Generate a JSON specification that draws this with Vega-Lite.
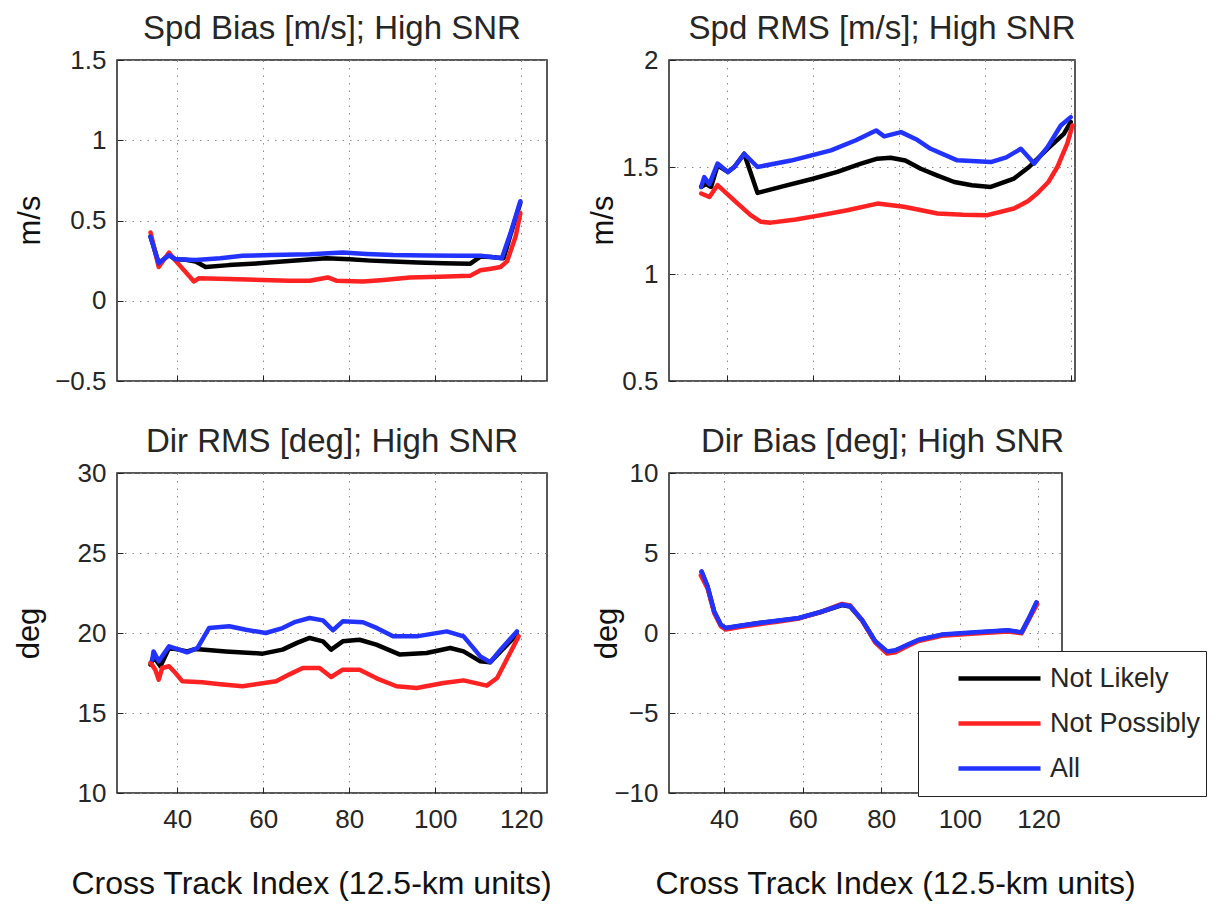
{
"$schema": "https://vega.github.io/schema/vega-lite/v6.json",
"padding": {"left": 12, "top": 12, "right": 5, "bottom": 5},
"background": "white",
"bounds": "flush",
"columns": 2,
"spacing": {"row": 92, "column": 122},
"resolve": {"scale": {"color": "independent"}, "legend": {"color": "independent"}},
"data": {"values": [
{"p":"sb","s":"Not Likely","x":33.8,"y":0.40},{"p":"sb","s":"Not Likely","x":35.7,"y":0.233},{"p":"sb","s":"Not Likely","x":38.1,"y":0.285},{"p":"sb","s":"Not Likely","x":39.6,"y":0.258},{"p":"sb","s":"Not Likely","x":42,"y":0.255},{"p":"sb","s":"Not Likely","x":44.3,"y":0.244},{"p":"sb","s":"Not Likely","x":46.6,"y":0.21},{"p":"sb","s":"Not Likely","x":52,"y":0.222},{"p":"sb","s":"Not Likely","x":59,"y":0.233},{"p":"sb","s":"Not Likely","x":66,"y":0.248},{"p":"sb","s":"Not Likely","x":74.7,"y":0.265},{"p":"sb","s":"Not Likely","x":80.1,"y":0.258},{"p":"sb","s":"Not Likely","x":85,"y":0.25},{"p":"sb","s":"Not Likely","x":90.2,"y":0.244},{"p":"sb","s":"Not Likely","x":96,"y":0.238},{"p":"sb","s":"Not Likely","x":101.9,"y":0.233},{"p":"sb","s":"Not Likely","x":108.1,"y":0.23},{"p":"sb","s":"Not Likely","x":110.5,"y":0.275},{"p":"sb","s":"Not Likely","x":113,"y":0.272},{"p":"sb","s":"Not Likely","x":115.9,"y":0.265},{"p":"sb","s":"Not Likely","x":117.5,"y":0.41},{"p":"sb","s":"Not Likely","x":119.8,"y":0.61},
{"p":"sb","s":"Not Possibly","x":33.8,"y":0.425},{"p":"sb","s":"Not Possibly","x":35.7,"y":0.21},{"p":"sb","s":"Not Possibly","x":38.1,"y":0.30},{"p":"sb","s":"Not Possibly","x":39.6,"y":0.25},{"p":"sb","s":"Not Possibly","x":43.9,"y":0.12},{"p":"sb","s":"Not Possibly","x":45,"y":0.14},{"p":"sb","s":"Not Possibly","x":52,"y":0.135},{"p":"sb","s":"Not Possibly","x":59.9,"y":0.13},{"p":"sb","s":"Not Possibly","x":66,"y":0.125},{"p":"sb","s":"Not Possibly","x":70.8,"y":0.125},{"p":"sb","s":"Not Possibly","x":75,"y":0.145},{"p":"sb","s":"Not Possibly","x":77,"y":0.125},{"p":"sb","s":"Not Possibly","x":83.2,"y":0.12},{"p":"sb","s":"Not Possibly","x":88,"y":0.13},{"p":"sb","s":"Not Possibly","x":94.1,"y":0.145},{"p":"sb","s":"Not Possibly","x":101,"y":0.15},{"p":"sb","s":"Not Possibly","x":108.1,"y":0.155},{"p":"sb","s":"Not Possibly","x":110.5,"y":0.19},{"p":"sb","s":"Not Possibly","x":113,"y":0.2},{"p":"sb","s":"Not Possibly","x":115.2,"y":0.21},{"p":"sb","s":"Not Possibly","x":116.7,"y":0.245},{"p":"sb","s":"Not Possibly","x":118.7,"y":0.40},{"p":"sb","s":"Not Possibly","x":119.8,"y":0.545},
{"p":"sb","s":"All","x":33.8,"y":0.40},{"p":"sb","s":"All","x":35.7,"y":0.233},{"p":"sb","s":"All","x":38.1,"y":0.285},{"p":"sb","s":"All","x":39.6,"y":0.258},{"p":"sb","s":"All","x":44.3,"y":0.254},{"p":"sb","s":"All","x":50,"y":0.265},{"p":"sb","s":"All","x":55.2,"y":0.28},{"p":"sb","s":"All","x":62,"y":0.285},{"p":"sb","s":"All","x":70.8,"y":0.29},{"p":"sb","s":"All","x":78.5,"y":0.30},{"p":"sb","s":"All","x":84,"y":0.292},{"p":"sb","s":"All","x":90.2,"y":0.285},{"p":"sb","s":"All","x":98,"y":0.282},{"p":"sb","s":"All","x":105.8,"y":0.28},{"p":"sb","s":"All","x":110.5,"y":0.28},{"p":"sb","s":"All","x":113,"y":0.272},{"p":"sb","s":"All","x":115.5,"y":0.265},{"p":"sb","s":"All","x":117.5,"y":0.42},{"p":"sb","s":"All","x":119.8,"y":0.62},

{"p":"sr","s":"Not Likely","x":34,"y":1.407},{"p":"sr","s":"Not Likely","x":35.1,"y":1.42},{"p":"sr","s":"Not Likely","x":36.3,"y":1.407},{"p":"sr","s":"Not Likely","x":37.8,"y":1.508},{"p":"sr","s":"Not Likely","x":40.2,"y":1.477},{"p":"sr","s":"Not Likely","x":41.7,"y":1.50},{"p":"sr","s":"Not Likely","x":44,"y":1.562},{"p":"sr","s":"Not Likely","x":47.1,"y":1.379},{"p":"sr","s":"Not Likely","x":54.1,"y":1.415},{"p":"sr","s":"Not Likely","x":60,"y":1.445},{"p":"sr","s":"Not Likely","x":65.7,"y":1.477},{"p":"sr","s":"Not Likely","x":71,"y":1.515},{"p":"sr","s":"Not Likely","x":75,"y":1.539},{"p":"sr","s":"Not Likely","x":78.1,"y":1.543},{"p":"sr","s":"Not Likely","x":81.5,"y":1.53},{"p":"sr","s":"Not Likely","x":85.1,"y":1.492},{"p":"sr","s":"Not Likely","x":89,"y":1.46},{"p":"sr","s":"Not Likely","x":92.9,"y":1.43},{"p":"sr","s":"Not Likely","x":97,"y":1.415},{"p":"sr","s":"Not Likely","x":101.4,"y":1.407},{"p":"sr","s":"Not Likely","x":106.8,"y":1.446},{"p":"sr","s":"Not Likely","x":110.3,"y":1.50},{"p":"sr","s":"Not Likely","x":114.6,"y":1.585},{"p":"sr","s":"Not Likely","x":118.4,"y":1.655},{"p":"sr","s":"Not Likely","x":120,"y":1.71},
{"p":"sr","s":"Not Possibly","x":34,"y":1.376},{"p":"sr","s":"Not Possibly","x":35.9,"y":1.36},{"p":"sr","s":"Not Possibly","x":37.8,"y":1.415},{"p":"sr","s":"Not Possibly","x":42.5,"y":1.329},{"p":"sr","s":"Not Possibly","x":45.5,"y":1.275},{"p":"sr","s":"Not Possibly","x":47.9,"y":1.244},{"p":"sr","s":"Not Possibly","x":50.2,"y":1.24},{"p":"sr","s":"Not Possibly","x":56,"y":1.255},{"p":"sr","s":"Not Possibly","x":61.9,"y":1.275},{"p":"sr","s":"Not Possibly","x":68,"y":1.298},{"p":"sr","s":"Not Possibly","x":75,"y":1.329},{"p":"sr","s":"Not Possibly","x":81.2,"y":1.314},{"p":"sr","s":"Not Possibly","x":89,"y":1.283},{"p":"sr","s":"Not Possibly","x":95,"y":1.277},{"p":"sr","s":"Not Possibly","x":100.6,"y":1.275},{"p":"sr","s":"Not Possibly","x":106.8,"y":1.306},{"p":"sr","s":"Not Possibly","x":110,"y":1.34},{"p":"sr","s":"Not Possibly","x":112.2,"y":1.376},{"p":"sr","s":"Not Possibly","x":114.8,"y":1.43},{"p":"sr","s":"Not Possibly","x":116.9,"y":1.50},{"p":"sr","s":"Not Possibly","x":119.2,"y":1.609},{"p":"sr","s":"Not Possibly","x":120.4,"y":1.694},
{"p":"sr","s":"All","x":34,"y":1.407},{"p":"sr","s":"All","x":34.7,"y":1.453},{"p":"sr","s":"All","x":35.9,"y":1.42},{"p":"sr","s":"All","x":37.8,"y":1.516},{"p":"sr","s":"All","x":40.2,"y":1.477},{"p":"sr","s":"All","x":41.7,"y":1.50},{"p":"sr","s":"All","x":44,"y":1.562},{"p":"sr","s":"All","x":47.1,"y":1.50},{"p":"sr","s":"All","x":54.9,"y":1.53},{"p":"sr","s":"All","x":64.2,"y":1.578},{"p":"sr","s":"All","x":70,"y":1.625},{"p":"sr","s":"All","x":74.7,"y":1.671},{"p":"sr","s":"All","x":76.6,"y":1.643},{"p":"sr","s":"All","x":80.5,"y":1.663},{"p":"sr","s":"All","x":84,"y":1.63},{"p":"sr","s":"All","x":87.4,"y":1.585},{"p":"sr","s":"All","x":93.6,"y":1.531},{"p":"sr","s":"All","x":101.4,"y":1.523},{"p":"sr","s":"All","x":105,"y":1.545},{"p":"sr","s":"All","x":108.4,"y":1.585},{"p":"sr","s":"All","x":111.5,"y":1.516},{"p":"sr","s":"All","x":114.6,"y":1.593},{"p":"sr","s":"All","x":117.7,"y":1.694},{"p":"sr","s":"All","x":120,"y":1.733},

{"p":"dr","s":"Not Likely","x":33.8,"y":18.02},{"p":"dr","s":"Not Likely","x":34.5,"y":18.54},{"p":"dr","s":"Not Likely","x":36.1,"y":17.92},{"p":"dr","s":"Not Likely","x":38.1,"y":19.06},{"p":"dr","s":"Not Likely","x":40.4,"y":18.96},{"p":"dr","s":"Not Likely","x":42.3,"y":18.85},{"p":"dr","s":"Not Likely","x":44.3,"y":19.0},{"p":"dr","s":"Not Likely","x":51.3,"y":18.85},{"p":"dr","s":"Not Likely","x":59.9,"y":18.71},{"p":"dr","s":"Not Likely","x":64.5,"y":18.96},{"p":"dr","s":"Not Likely","x":68,"y":19.4},{"p":"dr","s":"Not Likely","x":70.8,"y":19.69},{"p":"dr","s":"Not Likely","x":73.9,"y":19.48},{"p":"dr","s":"Not Likely","x":75.8,"y":18.96},{"p":"dr","s":"Not Likely","x":78.5,"y":19.48},{"p":"dr","s":"Not Likely","x":82.4,"y":19.58},{"p":"dr","s":"Not Likely","x":86.3,"y":19.27},{"p":"dr","s":"Not Likely","x":91.8,"y":18.65},{"p":"dr","s":"Not Likely","x":98,"y":18.75},{"p":"dr","s":"Not Likely","x":103.5,"y":19.06},{"p":"dr","s":"Not Likely","x":106.6,"y":18.85},{"p":"dr","s":"Not Likely","x":110.5,"y":18.23},{"p":"dr","s":"Not Likely","x":112.8,"y":18.17},{"p":"dr","s":"Not Likely","x":115.2,"y":18.85},{"p":"dr","s":"Not Likely","x":119,"y":19.9},
{"p":"dr","s":"Not Possibly","x":33.8,"y":18.13},{"p":"dr","s":"Not Possibly","x":34.9,"y":17.71},{"p":"dr","s":"Not Possibly","x":35.7,"y":17.08},{"p":"dr","s":"Not Possibly","x":36.5,"y":17.81},{"p":"dr","s":"Not Possibly","x":38.1,"y":17.92},{"p":"dr","s":"Not Possibly","x":39.6,"y":17.5},{"p":"dr","s":"Not Possibly","x":41.2,"y":16.98},{"p":"dr","s":"Not Possibly","x":45.8,"y":16.92},{"p":"dr","s":"Not Possibly","x":50,"y":16.8},{"p":"dr","s":"Not Possibly","x":55.2,"y":16.67},{"p":"dr","s":"Not Possibly","x":63,"y":16.98},{"p":"dr","s":"Not Possibly","x":66,"y":17.4},{"p":"dr","s":"Not Possibly","x":69.2,"y":17.81},{"p":"dr","s":"Not Possibly","x":73.1,"y":17.81},{"p":"dr","s":"Not Possibly","x":75.8,"y":17.25},{"p":"dr","s":"Not Possibly","x":78.5,"y":17.71},{"p":"dr","s":"Not Possibly","x":82.4,"y":17.71},{"p":"dr","s":"Not Possibly","x":86.5,"y":17.15},{"p":"dr","s":"Not Possibly","x":91,"y":16.67},{"p":"dr","s":"Not Possibly","x":95.7,"y":16.56},{"p":"dr","s":"Not Possibly","x":101.9,"y":16.88},{"p":"dr","s":"Not Possibly","x":106.6,"y":17.04},{"p":"dr","s":"Not Possibly","x":112,"y":16.71},{"p":"dr","s":"Not Possibly","x":114.4,"y":17.19},{"p":"dr","s":"Not Possibly","x":119.4,"y":19.79},
{"p":"dr","s":"All","x":34.2,"y":18.33},{"p":"dr","s":"All","x":34.5,"y":18.85},{"p":"dr","s":"All","x":35.7,"y":18.23},{"p":"dr","s":"All","x":38.1,"y":19.17},{"p":"dr","s":"All","x":40.4,"y":18.96},{"p":"dr","s":"All","x":42.3,"y":18.79},{"p":"dr","s":"All","x":44.7,"y":19.06},{"p":"dr","s":"All","x":47.4,"y":20.31},{"p":"dr","s":"All","x":52.1,"y":20.42},{"p":"dr","s":"All","x":56,"y":20.2},{"p":"dr","s":"All","x":60.6,"y":20.0},{"p":"dr","s":"All","x":64.5,"y":20.31},{"p":"dr","s":"All","x":67.5,"y":20.7},{"p":"dr","s":"All","x":70.8,"y":20.94},{"p":"dr","s":"All","x":73.9,"y":20.79},{"p":"dr","s":"All","x":76.2,"y":20.17},{"p":"dr","s":"All","x":78.5,"y":20.73},{"p":"dr","s":"All","x":83.2,"y":20.67},{"p":"dr","s":"All","x":86.5,"y":20.3},{"p":"dr","s":"All","x":90.2,"y":19.79},{"p":"dr","s":"All","x":95.7,"y":19.79},{"p":"dr","s":"All","x":102.7,"y":20.1},{"p":"dr","s":"All","x":106.6,"y":19.79},{"p":"dr","s":"All","x":110.5,"y":18.54},{"p":"dr","s":"All","x":112.8,"y":18.17},{"p":"dr","s":"All","x":115.2,"y":18.96},{"p":"dr","s":"All","x":119,"y":20.1},

{"p":"db","s":"Not Likely","x":34.3,"y":3.8},{"p":"db","s":"Not Likely","x":35.8,"y":2.9},{"p":"db","s":"Not Likely","x":37.5,"y":1.33},{"p":"db","s":"Not Likely","x":39.2,"y":0.5},{"p":"db","s":"Not Likely","x":40.4,"y":0.3},{"p":"db","s":"Not Likely","x":44,"y":0.44},{"p":"db","s":"Not Likely","x":48.9,"y":0.62},{"p":"db","s":"Not Likely","x":54,"y":0.77},{"p":"db","s":"Not Likely","x":59,"y":0.93},{"p":"db","s":"Not Likely","x":65,"y":1.33},{"p":"db","s":"Not Likely","x":70,"y":1.75},{"p":"db","s":"Not Likely","x":72.1,"y":1.65},{"p":"db","s":"Not Likely","x":75.1,"y":0.8},{"p":"db","s":"Not Likely","x":78.5,"y":-0.55},{"p":"db","s":"Not Likely","x":81.5,"y":-1.18},{"p":"db","s":"Not Likely","x":83.6,"y":-1.1},{"p":"db","s":"Not Likely","x":86.5,"y":-0.78},{"p":"db","s":"Not Likely","x":89.5,"y":-0.45},{"p":"db","s":"Not Likely","x":95.4,"y":-0.12},{"p":"db","s":"Not Likely","x":103.9,"y":0.02},{"p":"db","s":"Not Likely","x":112.3,"y":0.15},{"p":"db","s":"Not Likely","x":115.7,"y":0.02},{"p":"db","s":"Not Likely","x":117.8,"y":1.0},{"p":"db","s":"Not Likely","x":119.5,"y":1.88},
{"p":"db","s":"Not Possibly","x":34.1,"y":3.6},{"p":"db","s":"Not Possibly","x":35.8,"y":2.8},{"p":"db","s":"Not Possibly","x":37.5,"y":1.25},{"p":"db","s":"Not Possibly","x":39.2,"y":0.42},{"p":"db","s":"Not Possibly","x":40.4,"y":0.22},{"p":"db","s":"Not Possibly","x":44,"y":0.37},{"p":"db","s":"Not Possibly","x":48.9,"y":0.55},{"p":"db","s":"Not Possibly","x":54,"y":0.72},{"p":"db","s":"Not Possibly","x":59,"y":0.9},{"p":"db","s":"Not Possibly","x":65,"y":1.35},{"p":"db","s":"Not Possibly","x":70,"y":1.82},{"p":"db","s":"Not Possibly","x":72.1,"y":1.72},{"p":"db","s":"Not Possibly","x":75.1,"y":0.8},{"p":"db","s":"Not Possibly","x":78.5,"y":-0.6},{"p":"db","s":"Not Possibly","x":81.5,"y":-1.28},{"p":"db","s":"Not Possibly","x":83.6,"y":-1.2},{"p":"db","s":"Not Possibly","x":86.5,"y":-0.85},{"p":"db","s":"Not Possibly","x":89.5,"y":-0.5},{"p":"db","s":"Not Possibly","x":95.4,"y":-0.18},{"p":"db","s":"Not Possibly","x":103.9,"y":-0.03},{"p":"db","s":"Not Possibly","x":112.3,"y":0.1},{"p":"db","s":"Not Possibly","x":115.7,"y":-0.02},{"p":"db","s":"Not Possibly","x":117.8,"y":0.95},{"p":"db","s":"Not Possibly","x":119.7,"y":1.82},
{"p":"db","s":"All","x":34.3,"y":3.85},{"p":"db","s":"All","x":35.8,"y":2.92},{"p":"db","s":"All","x":37.5,"y":1.35},{"p":"db","s":"All","x":39.2,"y":0.52},{"p":"db","s":"All","x":40.4,"y":0.31},{"p":"db","s":"All","x":44,"y":0.45},{"p":"db","s":"All","x":48.9,"y":0.625},{"p":"db","s":"All","x":54,"y":0.78},{"p":"db","s":"All","x":59,"y":0.94},{"p":"db","s":"All","x":65,"y":1.35},{"p":"db","s":"All","x":70,"y":1.77},{"p":"db","s":"All","x":72.1,"y":1.67},{"p":"db","s":"All","x":75.1,"y":0.83},{"p":"db","s":"All","x":78.5,"y":-0.52},{"p":"db","s":"All","x":81.5,"y":-1.15},{"p":"db","s":"All","x":83.6,"y":-1.08},{"p":"db","s":"All","x":86.5,"y":-0.75},{"p":"db","s":"All","x":89.5,"y":-0.42},{"p":"db","s":"All","x":95.4,"y":-0.10},{"p":"db","s":"All","x":103.9,"y":0.04},{"p":"db","s":"All","x":112.3,"y":0.17},{"p":"db","s":"All","x":115.7,"y":0.04},{"p":"db","s":"All","x":117.8,"y":1.04},{"p":"db","s":"All","x":119.5,"y":1.92}
]},
"concat": [
  {"width": 430, "height": 321,
   "title": {"text": "Spd Bias [m/s]; High SNR"},
   "transform": [{"filter": "datum.p === 'sb'"}],
   "mark": {"type": "line", "strokeWidth": 4.5, "strokeJoin": "round", "strokeCap": "round"},
   "encoding": {
    "x": {"field": "x", "type": "quantitative", "scale": {"domain": [26, 126], "nice": false, "zero": false}, "axis": {"values": [40, 60, 80, 100, 120], "labels": false, "title": null}},
    "y": {"field": "y", "type": "quantitative", "scale": {"domain": [-0.5, 1.5], "nice": false, "zero": false}, "axis": {"values": [-0.5, 0, 0.5, 1, 1.5], "format": ".1~f", "title": "m/s", "titleX": -87, "titleY": 160, "titleBaseline": "middle", "titleAlign": "center"}},
    "color": {"field": "s", "type": "nominal", "scale": {"domain": ["Not Likely", "Not Possibly", "All"], "range": ["#000000", "#ff2222", "#2233ff"]}, "legend": null}
   }},
  {"width": 406, "height": 321,
   "title": {"text": "Spd RMS [m/s]; High SNR", "dx": 10},
   "transform": [{"filter": "datum.p === 'sr'"}],
   "mark": {"type": "line", "strokeWidth": 4.5, "strokeJoin": "round", "strokeCap": "round"},
   "encoding": {
    "x": {"field": "x", "type": "quantitative", "scale": {"domain": [26.5, 121], "nice": false, "zero": false}, "axis": {"values": [40, 60, 80, 100, 120], "labels": false, "title": null}},
    "y": {"field": "y", "type": "quantitative", "scale": {"domain": [0.5, 2], "nice": false, "zero": false}, "axis": {"values": [0.5, 1, 1.5, 2], "format": ".1~f", "title": "m/s", "titleX": -66, "titleY": 160, "titleBaseline": "middle", "titleAlign": "center"}},
    "color": {"field": "s", "type": "nominal", "scale": {"domain": ["Not Likely", "Not Possibly", "All"], "range": ["#000000", "#ff2222", "#2233ff"]}, "legend": null}
   }},
  {"width": 430, "height": 320,
   "title": {"text": "Dir RMS [deg]; High SNR"},
   "transform": [{"filter": "datum.p === 'dr'"}],
   "mark": {"type": "line", "strokeWidth": 4.5, "strokeJoin": "round", "strokeCap": "round"},
   "encoding": {
    "x": {"field": "x", "type": "quantitative", "scale": {"domain": [26, 126], "nice": false, "zero": false}, "axis": {"values": [40, 60, 80, 100, 120], "title": "Cross Track Index (12.5-km units)", "titleX": 194, "titleY": 90, "titleBaseline": "middle", "titleAlign": "center", "titleFontSize": 32}},
    "y": {"field": "y", "type": "quantitative", "scale": {"domain": [10, 30], "nice": false, "zero": false}, "axis": {"values": [10, 15, 20, 25, 30], "title": "deg", "titleX": -88, "titleY": 160, "titleBaseline": "middle", "titleAlign": "center"}},
    "color": {"field": "s", "type": "nominal", "scale": {"domain": ["Not Likely", "Not Possibly", "All"], "range": ["#000000", "#ff2222", "#2233ff"]}, "legend": null}
   }},
  {"width": 393, "height": 320,
   "title": {"text": "Dir Bias [deg]; High SNR", "dx": 17},
   "transform": [{"filter": "datum.p === 'db'"}],
   "mark": {"type": "line", "strokeWidth": 4.5, "strokeJoin": "round", "strokeCap": "round"},
   "encoding": {
    "x": {"field": "x", "type": "quantitative", "scale": {"domain": [26, 126], "nice": false, "zero": false}, "axis": {"values": [40, 60, 80, 100, 120], "title": "Cross Track Index (12.5-km units)", "titleX": 226, "titleY": 90, "titleBaseline": "middle", "titleAlign": "center", "titleFontSize": 32}},
    "y": {"field": "y", "type": "quantitative", "scale": {"domain": [-10, 10], "nice": false, "zero": false}, "axis": {"values": [-10, -5, 0, 5, 10], "title": "deg", "titleX": -62, "titleY": 160, "titleBaseline": "middle", "titleAlign": "center"}},
    "color": {"field": "s", "type": "nominal", "scale": {"domain": ["Not Likely", "Not Possibly", "All"], "range": ["#000000", "#ff2222", "#2233ff"]},
     "legend": {"orient": "none", "legendX": 249, "legendY": 178, "title": null, "strokeColor": "#222222", "fillColor": "#ffffff", "padding": 5, "symbolType": "stroke", "symbolSize": 6724, "symbolStrokeWidth": 4.5, "clipHeight": 45, "labelFontSize": 27, "labelOffset": 7, "symbolOffset": 33, "rowPadding": 0, "labelColor": "#262626", "labelLimit": 400, "labelFont": "Liberation Sans"}}
   }}
],
"config": {
 "font": "Liberation Sans",
 "view": {"stroke": "#222222", "strokeWidth": 1.5},
 "axis": {"grid": true, "gridColor": "#8a8a8a", "gridDash": [1.5, 6], "gridWidth": 1, "domain": false, "ticks": true, "tickSize": -6, "tickColor": "#222222", "tickWidth": 1, "labelFontSize": 26, "labelColor": "#262626", "labelFont": "Liberation Sans", "titleFont": "Liberation Sans", "titleFontSize": 31, "titleFontWeight": "normal", "titleColor": "#111111"},
 "axisY": {"labelPadding": 17},
 "axisX": {"labelPadding": 19},
 "title": {"fontSize": 33, "fontWeight": "normal", "color": "#262626", "font": "Liberation Sans", "anchor": "middle", "frame": "group", "baseline": "alphabetic", "offset": 1}
}
}
